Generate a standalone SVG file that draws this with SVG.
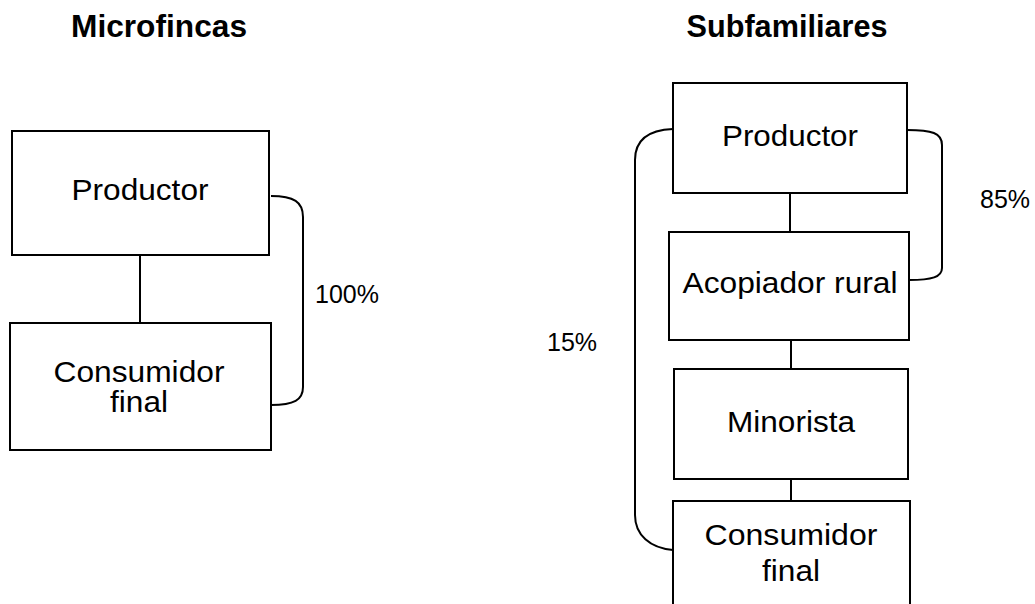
<svg xmlns="http://www.w3.org/2000/svg" width="1035" height="604" viewBox="0 0 1035 604">
<style>
.box{fill:#fff;stroke:#000;stroke-width:2}
.ln{fill:none;stroke:#000;stroke-width:2}
.t{font-family:"Liberation Sans",Arial,sans-serif;font-size:29px;fill:#000;text-anchor:middle}
.h{font-family:"Liberation Sans",Arial,sans-serif;font-size:31px;font-weight:bold;fill:#000;text-anchor:middle}
.p{font-family:"Liberation Sans",Arial,sans-serif;font-size:25px;fill:#000}
</style>
<rect width="1035" height="604" fill="#fff"/>
<g id="connectors">
<line class="ln" x1="140" y1="255" x2="140" y2="323"/>
<line class="ln" x1="790" y1="193" x2="790" y2="232"/>
<line class="ln" x1="791" y1="340" x2="791" y2="369"/>
<line class="ln" x1="791" y1="479" x2="791" y2="501"/>
<path class="ln" d="M271,196 C294,196 303,202 303,217 L303,387 C303,400 294,405 271,405"/>
<path class="ln" d="M907,130 C932,130 942,133 942,145 L942,268 C942,277 932,280 909,280"/>
<path class="ln" d="M673,129 C648,130 635,140 635,160 L635,515 C635,535 650,548 673,550"/>
</g>
<g id="titles">
<text class="h" x="159" y="37" textLength="176" lengthAdjust="spacingAndGlyphs">Microfincas</text>
<text class="h" x="787" y="37" textLength="201" lengthAdjust="spacingAndGlyphs">Subfamiliares</text>
</g>
<g id="labels">
<text class="p" x="315" y="303">100%</text>
<text class="p" x="980" y="208">85%</text>
<text class="p" x="547" y="351">15%</text>
</g>
<g id="m-productor">
<rect class="box" x="12" y="131" width="257" height="124"/>
<text class="t" x="140" y="200" textLength="137" lengthAdjust="spacingAndGlyphs">Productor</text>
</g>
<g id="m-consumidor">
<rect class="box" x="10" y="323" width="261" height="127"/>
<text class="t" x="139" y="382" textLength="171" lengthAdjust="spacingAndGlyphs">Consumidor</text>
<text class="t" x="139" y="412" textLength="58" lengthAdjust="spacingAndGlyphs">final</text>
</g>
<g id="s-productor">
<rect class="box" x="673" y="83" width="234" height="110"/>
<text class="t" x="790" y="146" textLength="136" lengthAdjust="spacingAndGlyphs">Productor</text>
</g>
<g id="s-acopiador">
<rect class="box" x="669" y="232" width="240" height="108"/>
<text class="t" x="790" y="293" textLength="215" lengthAdjust="spacingAndGlyphs">Acopiador rural</text>
</g>
<g id="s-minorista">
<rect class="box" x="674" y="369" width="234" height="110"/>
<text class="t" x="791" y="432" textLength="128" lengthAdjust="spacingAndGlyphs">Minorista</text>
</g>
<g id="s-consumidor">
<rect class="box" x="673" y="501" width="237" height="130"/>
<text class="t" x="791" y="545" textLength="173" lengthAdjust="spacingAndGlyphs">Consumidor</text>
<text class="t" x="791" y="581" textLength="58" lengthAdjust="spacingAndGlyphs">final</text>
</g>
</svg>
